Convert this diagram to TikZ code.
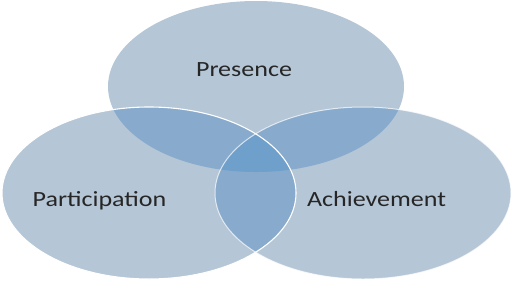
\documentclass[tikz,border=0pt]{standalone}
\usepackage{fontspec}
\setmainfont{Carlito}
\definecolor{cone}{RGB}{181,198,214}
\definecolor{ctwo}{RGB}{136,170,204}
\definecolor{cthree}{RGB}{111,159,203}
\definecolor{ctext}{RGB}{38,38,38}
\tikzset{
  lbl/.style={text=ctext, font=\fontsize{21.7}{24}\selectfont, inner sep=0pt, anchor=base, xscale=1.2}
}
\begin{document}
\begin{tikzpicture}[x=1pt,y=-1pt]
\useasboundingbox (0,0) rectangle (513,282);
\def\ptop{(256,86.5) ellipse [x radius=148pt, y radius=85.5pt]}
\def\pleft{(149,193) ellipse [x radius=147pt, y radius=86pt]}
\def\pright{(363,193) ellipse [x radius=148pt, y radius=86pt]}
\fill[cone] \ptop;
\fill[cone] \pleft;
\fill[cone] \pright;
\begin{scope}\clip \ptop; \fill[ctwo] \pleft; \fill[ctwo] \pright;\end{scope}
\begin{scope}\clip \pleft; \fill[ctwo] \pright;\end{scope}
\begin{scope}\clip \ptop; \clip \pleft; \fill[cthree] \pright;\end{scope}
\draw[white, line width=1.1pt] \pleft;
\draw[white, line width=1pt, opacity=0.7] \pright;
\node[lbl] (presence) at (244,76) {Presence};
\node[lbl] (participation) at (99.5,206.5) {Participation};
\node[lbl] (achievement) at (376.5,206) {Achievement};
\end{tikzpicture}
\end{document}
